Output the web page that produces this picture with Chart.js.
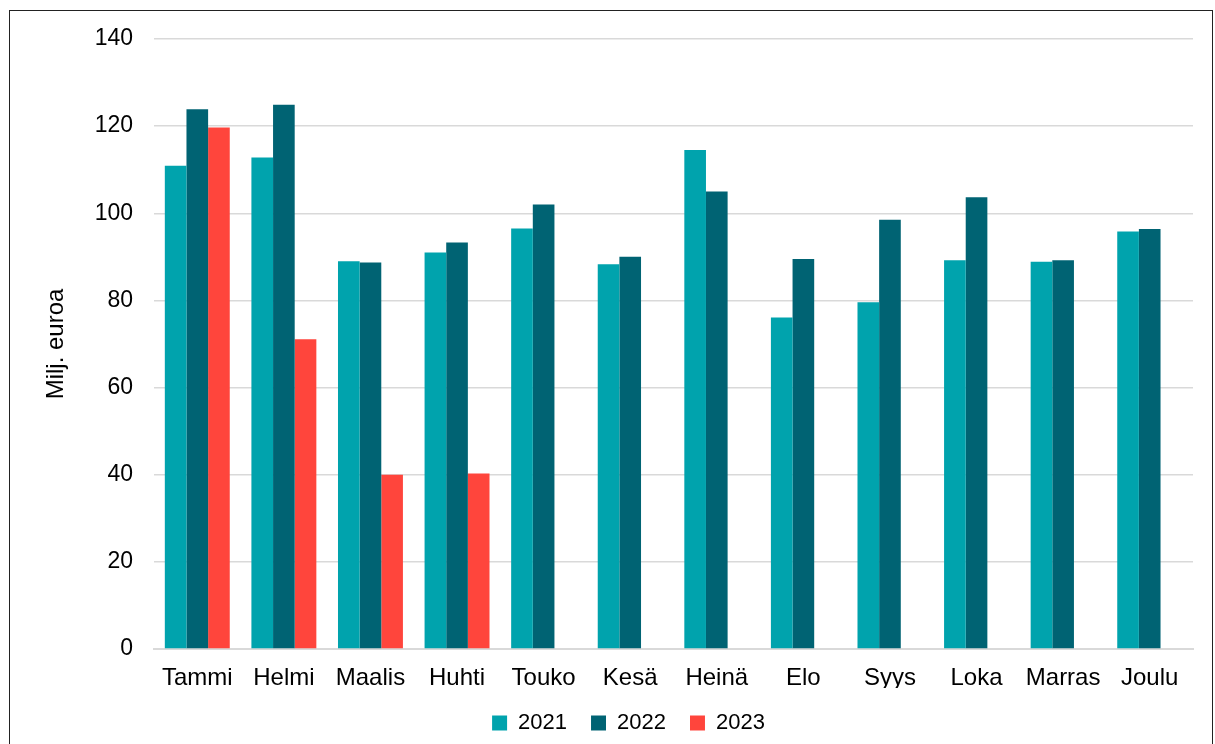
<!DOCTYPE html>
<html lang="fi">
<head>
<meta charset="UTF-8">
<title>Milj. euroa</title>
<style>
  html, body { margin: 0; padding: 0; background: #fff; }
  .wrap { position: relative; width: 1215px; height: 744px; overflow: hidden; }
  .frame { position: absolute; left: 9px; top: 10px; width: 1204px; height: 760px; border: 1px solid #222; box-sizing: border-box; pointer-events: none; }
</style>
</head>
<body>
<div class="wrap">
  <canvas id="myChart" width="1215" height="744"></canvas>
  <div class="frame"></div>
</div>
<script src="https://cdn.jsdelivr.net/npm/chart.js@4/dist/chart.umd.min.js"></script>
<script>
  var months = ['Tammi', 'Helmi', 'Maalis', 'Huhti', 'Touko', 'Kesä', 'Heinä', 'Elo', 'Syys', 'Loka', 'Marras', 'Joulu'];
  var v2021 = [110.9, 112.8, 89.0, 91.0, 96.5, 88.3, 114.5, 76.1, 79.6, 89.2, 88.9, 95.8];
  var v2022 = [123.9, 124.9, 88.7, 93.3, 102.0, 90.0, 105.0, 89.5, 98.5, 103.7, 89.2, 96.4];
  var v2023 = [119.7, 71.1, 40.0, 40.3, null, null, null, null, null, null, null, null];

  var font = "'Liberation Sans', Arial, sans-serif";
  Chart.defaults.font.family = font;
  Chart.defaults.color = '#000';

  // legend sits a bit right of centre in the original
  var legendShift = {
    id: 'legendShift',
    afterLayout: function (chart) {
      chart.legend.left += 32;
      chart.legend.right += 32;
    }
  };

  var ctx = document.getElementById('myChart');
  var myChart = new Chart(ctx, {
    type: 'bar',
    data: {
      labels: months,
      datasets: [
        { label: '2021', data: v2021, backgroundColor: '#00A3AD' },
        { label: '2022', data: v2022, backgroundColor: '#006373' },
        { label: '2023', data: v2023, backgroundColor: '#FF453C' }
      ]
    },
    options: {
      responsive: false,
      animation: false,
      categoryPercentage: 0.75,
      barPercentage: 1.0,
      layout: { padding: { top: 39, right: 22, left: 0, bottom: 0 } },
      plugins: {
        tooltip: { enabled: false },
        legend: {
          position: 'bottom',
          labels: {
            font: { size: 22 },
            boxWidth: 15,
            boxHeight: 15,
            padding: 24,
            color: '#000'
          }
        }
      },
      scales: {
        x: {
          grid: { display: false, drawTicks: false },
          border: { color: '#d9d9d9', width: 2 },
          ticks: { font: { size: 24 }, padding: 15, color: '#000' },
          afterFit: function (s) { s.height = 39; }
        },
        y: {
          min: 0,
          max: 140,
          ticks: { stepSize: 20, font: { size: 23 }, padding: 21, color: '#000' },
          grid: { color: '#d9d9d9', lineWidth: 1.5, drawTicks: false },
          border: { display: false },
          title: { display: true, text: 'Milj. euroa', font: { size: 24 }, padding: { top: 42, bottom: 0 }, color: '#000' },
          afterFit: function (s) { s.width = 154; }
        }
      }
    },
    plugins: [legendShift]
  });
</script>
</body>
</html>
